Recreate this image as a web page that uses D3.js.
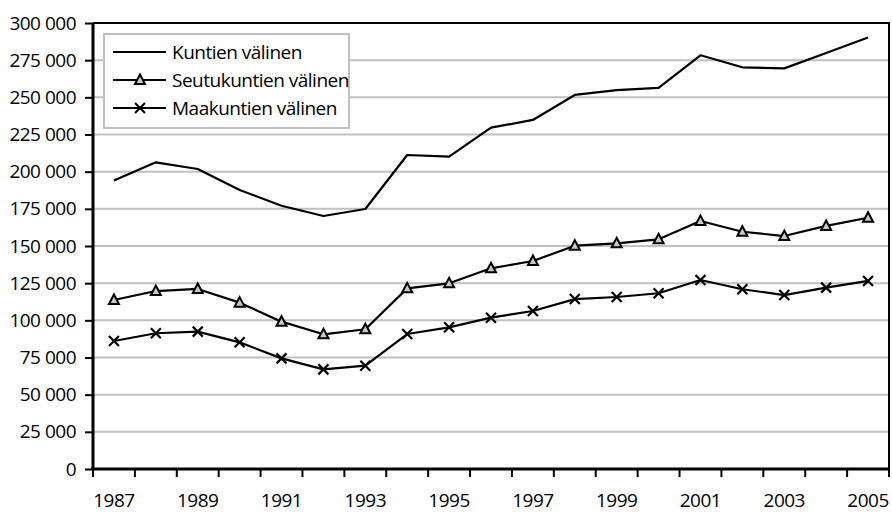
<!DOCTYPE html>
<html>
<head>
<meta charset="utf-8">
<script src="https://cdn.jsdelivr.net/npm/d3@7"></script>
<style>
  body { margin: 0; background: #fff; }
  svg text { font-family: "Open Sans", "DejaVu Sans", sans-serif; fill: #000; font-weight: 500; letter-spacing: -0.5px; }
</style>
</head>
<body>
<svg id="chart" width="892" height="514"></svg>
<script>
// data
const years = d3.range(1987, 2006);
const kuntien = [194000, 206300, 201800, 187700, 177100, 170200, 174900, 211200, 210100, 229600,
                 234800, 251600, 254900, 256300, 278300, 270200, 269500, 279800, 290200];
const seutukuntien = [113700, 119700, 121100, 111900, 99100, 90600, 94000, 121500, 124900, 135000,
                      139900, 150200, 151800, 154500, 166800, 159600, 156700, 163500, 169000];
const maakuntien = [86100, 91300, 92400, 85200, 74400, 67000, 69500, 90800, 95300, 101800,
                    106300, 114300, 115700, 118200, 127100, 120900, 117000, 122000, 126500];
const seriesNames = ["Kuntien välinen", "Seutukuntien välinen", "Maakuntien välinen"];
const yTicks = d3.range(0, 300001, 25000);
const xLabelYears = years.filter(y => y % 2 === 1);

const svg = d3.select("#chart");
const width = +svg.attr("width");
const height = +svg.attr("height");
const margin = {top: 23, right: 3, bottom: 45, left: 93};
const chartWidth = width - margin.left - margin.right;
const chartHeight = height - margin.top - margin.bottom;
const fontSize = "19px";

const x = d3.scaleBand().domain(years).range([0, chartWidth]).padding(0);
const y = d3.scaleLinear().domain([0, 300000]).range([chartHeight, 0]);
const cx = d => x(d) + x.bandwidth() / 2;

const fmt = v => d3.format(",")(v).replace(/,/g, " ");

const g = svg.append("g").attr("transform", `translate(${margin.left},${margin.top})`);

// gridlines
g.append("g").attr("class", "gridlines")
  .selectAll("line").data(yTicks.filter(t => t > 0 && t < 300000)).join("line")
  .attr("x1", 0).attr("x2", chartWidth)
  .attr("y1", d => y(d)).attr("y2", d => y(d))
  .attr("stroke", "#c0c0c0").attr("stroke-width", 2);

// plot border top/right
g.append("path")
  .attr("d", `M0,${y(300000)}H${chartWidth}V${chartHeight}`)
  .attr("fill", "none").attr("stroke", "#000").attr("stroke-width", 2);

// y axis
const leftAxis = d3.axisLeft(y).tickValues(yTicks).tickFormat(fmt).tickSize(8).tickPadding(9);
const leftAxisG = g.append("g").attr("class", "y axis").call(leftAxis);
leftAxisG.select(".domain").attr("stroke", "#000").attr("stroke-width", 3).attr("d", `M0,0V${chartHeight}`);
leftAxisG.selectAll(".tick line").attr("stroke", "#000").attr("stroke-width", 2);
leftAxisG.selectAll("text").style("font-size", fontSize);

// x axis: ticks at category boundaries, labels at every other year
const bottomG = g.append("g").attr("class", "x axis").attr("transform", `translate(0,${chartHeight})`);
bottomG.selectAll("line.tick").data(years.concat([null])).join("line")
  .attr("class", "tick")
  .attr("x1", d => d === null ? chartWidth : x(d))
  .attr("x2", d => d === null ? chartWidth : x(d))
  .attr("y1", 0).attr("y2", 8)
  .attr("stroke", "#000").attr("stroke-width", 2);
bottomG.append("line").attr("x1", -1.5).attr("x2", chartWidth).attr("y1", 0).attr("y2", 0)
  .attr("stroke", "#000").attr("stroke-width", 3);
bottomG.selectAll("text").data(xLabelYears).join("text")
  .attr("x", d => cx(d)).attr("y", 38)
  .attr("text-anchor", "middle")
  .style("font-size", fontSize)
  .text(d => d);

// lines
const line = d3.line().x((d, i) => cx(years[i])).y(d => y(d));
[kuntien, seutukuntien, maakuntien].forEach(vals => {
  g.append("path").datum(vals)
    .attr("d", line)
    .attr("fill", "none").attr("stroke", "#000").attr("stroke-width", 2.2)
    .attr("stroke-linejoin", "round");
});

const triPath = "M0,-5.5L5,4L-5,4Z";
const crossPath = "M-5,-5L5,5M-5,5L5,-5";

g.append("g").selectAll("path").data(seutukuntien).join("path")
  .attr("transform", (d, i) => `translate(${cx(years[i])},${y(d)})`)
  .attr("d", triPath)
  .attr("fill", "#c8c8c8").attr("stroke", "#000").attr("stroke-width", 2);

g.append("g").selectAll("path").data(maakuntien).join("path")
  .attr("transform", (d, i) => `translate(${cx(years[i])},${y(d)})`)
  .attr("d", crossPath)
  .attr("fill", "none").attr("stroke", "#000").attr("stroke-width", 2.2);

// legend
const legend = svg.append("g").attr("transform", "translate(104,34)");
legend.append("rect").attr("width", 245).attr("height", 94)
  .attr("fill", "#fff").attr("stroke", "#c0c0c0").attr("stroke-width", 2);
const markers = [null, triPath, crossPath];
seriesNames.forEach((name, i) => {
  const row = legend.append("g").attr("transform", `translate(0,${18 + i * 28})`);
  row.append("line").attr("x1", 9).attr("x2", 62).attr("y1", 0).attr("y2", 0)
    .attr("stroke", "#000").attr("stroke-width", 2.2);
  if (markers[i]) {
    row.append("path").attr("transform", "translate(36,0)").attr("d", markers[i])
      .attr("fill", i === 1 ? "#c8c8c8" : "none").attr("stroke", "#000").attr("stroke-width", 2);
  }
  row.append("text").attr("x", 68).attr("dy", "0.35em").style("font-size", fontSize).text(name);
});
</script>
</body>
</html>
